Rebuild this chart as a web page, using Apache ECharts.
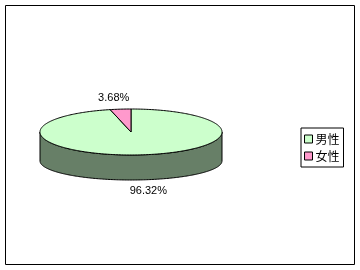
<!DOCTYPE html>
<html><head><meta charset="utf-8">
<script src="https://cdn.jsdelivr.net/npm/echarts@6/dist/echarts.min.js"></script>
<style>html,body{margin:0;padding:0;background:#fff}#c{width:360px;height:270px}</style>
</head><body><div id="c"></div>
<script>
const categories = ['男性', '女性'];
const values = [96.32, 3.68];
const labels = ['96.32%', '3.68%'];
const topColors = ['#CCFFCC', '#FF99CC'];
const sideColors = ['#677F67', '#7F4C66'];

const total = values.reduce((a, b) => a + b, 0);
const L = { cx: 131, cy: 132, rx: 91, ry: 23, cy2: 161, ry2: 19, lrx: 150, lry: 34, lry2: 30 };

function pt(t, cyy, ryy) { return [L.cx + L.rx * Math.sin(t), cyy - ryy * Math.cos(t)]; }
function arc(a, b, cyy, ryy) {
  const pts = []; const n = Math.max(2, Math.ceil((b - a) / (Math.PI / 180)));
  for (let i = 0; i <= n; i++) pts.push(pt(a + (b - a) * i / n, cyy, ryy));
  return pts;
}

function renderItem(params, api) {
  const idx = params.seriesIndex;
  const v = api.value(0);
  let before = 0; for (let i = 0; i < idx; i++) before += values[i];
  const start = before / total * Math.PI * 2;
  const end = (before + v) / total * Math.PI * 2;
  const children = [];
  const lo = Math.max(start, Math.PI / 2), hi = Math.min(end, Math.PI * 1.5);
  if (lo < hi) {
    const pts = arc(lo, hi, L.cy, L.ry).concat(arc(lo, hi, L.cy2, L.ry2).reverse());
    children.push({ type: 'polygon', shape: { points: pts }, style: { fill: sideColors[idx], stroke: '#000', lineWidth: 1 } });
  }
  const top = [[L.cx, L.cy]].concat(arc(start, end, L.cy, L.ry));
  children.push({ type: 'polygon', shape: { points: top }, style: { fill: topColors[idx], stroke: '#000', lineWidth: 1 } });
  const m = (start + end) / 2;
  const c = Math.cos(m);
  const lx = L.cx + L.lrx * Math.sin(m);
  const ly = c >= 0 ? L.cy - L.lry * c : L.cy2 - L.lry2 * c;
  children.push({ type: 'text', x: lx, y: ly, style: { text: labels[idx], fill: '#000', font: '11px "Liberation Sans"', align: 'center', verticalAlign: 'middle' } });
  return { type: 'group', children };
}

const chart = echarts.init(document.getElementById('c'));
chart.setOption({
  animation: false,
  graphic: [{ type: 'rect', shape: { x: 5.5, y: 5.5, width: 349, height: 259 }, style: { fill: 'none', stroke: '#000', lineWidth: 1 } }],
  legend: {
    data: categories, orient: 'vertical', left: 301, top: 128,
    padding: [5, 4, 5, 3], itemGap: 5, itemWidth: 8, itemHeight: 8, icon: 'rect',
    borderColor: '#000', borderWidth: 1, backgroundColor: '#fff', selectedMode: false,
    itemStyle: { borderColor: '#000', borderWidth: 1 },
    textStyle: { fontFamily: 'Noto Sans CJK JP', fontSize: 12, color: '#000', padding: [0, 0, 0, -2] }
  },
  series: categories.map((name, i) => ({
    type: 'custom', name, coordinateSystem: 'none', renderItem,
    itemStyle: { color: topColors[i] }, silent: true,
    data: [[values[i]]]
  }))
});
</script></body></html>
